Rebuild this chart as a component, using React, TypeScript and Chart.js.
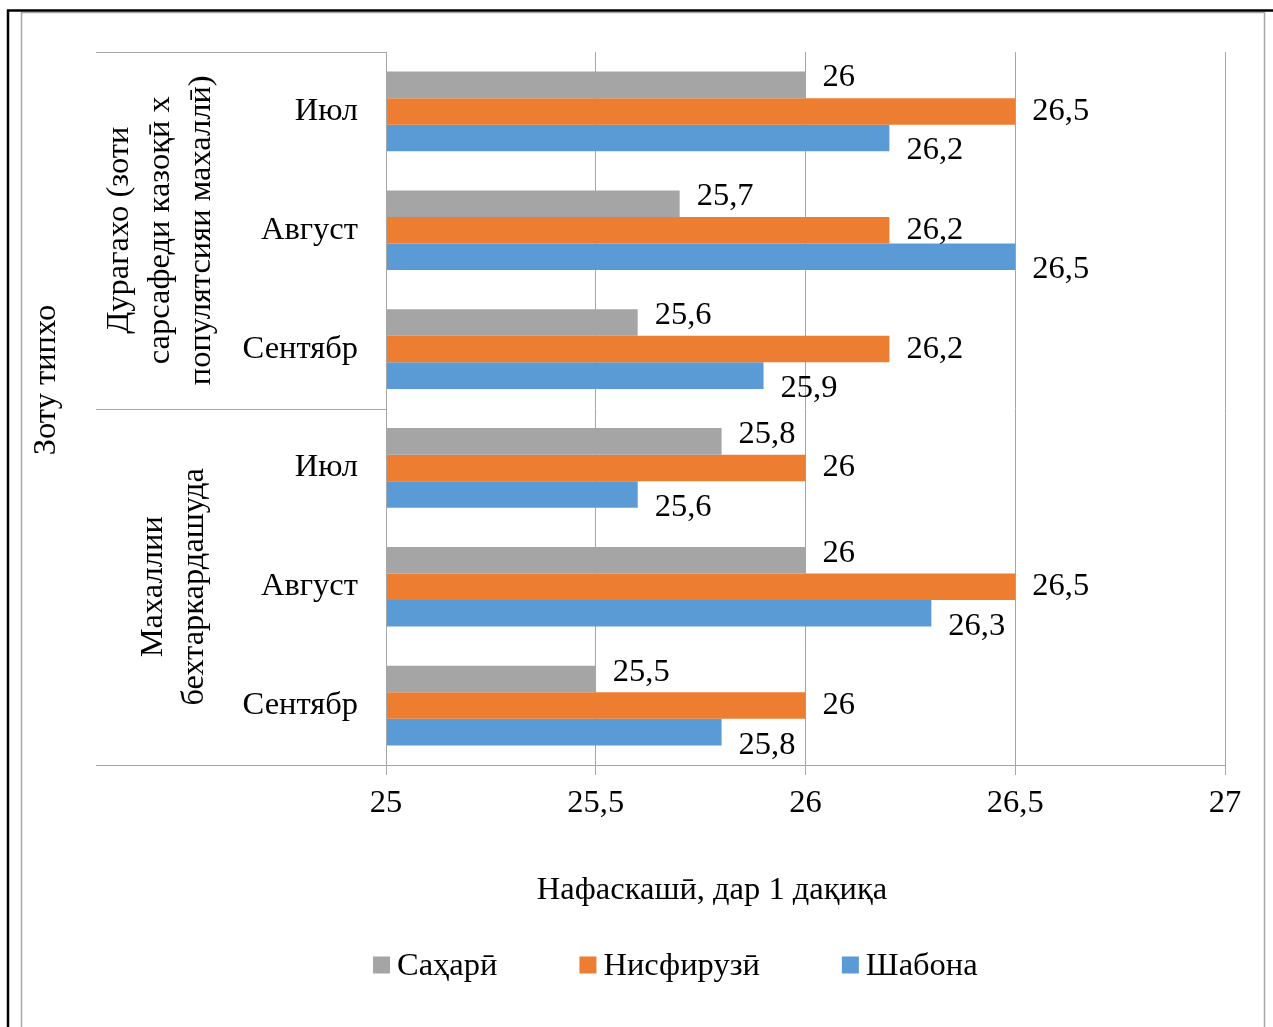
import React, { useEffect, useRef } from "react";
import { Chart, registerables } from "chart.js";

Chart.register(...registerables);

const categories = ["Июл", "Август", "Сентябр", "Июл", "Август", "Сентябр"];
const groupLabels = [
  ["Дурагахо (зоти", "сарсафеди казоқӣ х", "популятсияи махаллӣ)"],
  ["Махаллии", "бехтаркардашуда"],
];
const groupSizes = [3, 3];
const seriesNames = ["Саҳарӣ", "Нисфирузӣ", "Шабона"];
const seriesColors = ["#a5a5a5", "#ed7d31", "#5b9bd5"];
const sahari = [26, 25.7, 25.6, 25.8, 26, 25.5];
const nisfiruzi = [26.5, 26.2, 26.2, 26, 26.5, 26];
const shabona = [26.2, 26.5, 25.9, 25.6, 26.3, 25.8];
const xMin = 25;
const xMax = 27;
const xStep = 0.5;
const xTitle = "Нафаскашӣ, дар 1 дақиқа";
const yTitle = "Зоту типхо";

const FONT = '"Liberation Serif", "DejaVu Serif", serif';
const FS = 32.5;
const GRID = "#a6a6a6";

const fmt = (v: number) => String(v).replace(".", ",");

const overlay = {
  id: "overlay",
  afterDraw(chart: any) {
    const ctx = chart.ctx as CanvasRenderingContext2D;
    const area = chart.chartArea;
    ctx.save();

    // frames
    ctx.strokeStyle = GRID;
    ctx.lineWidth = 1.5;
    ctx.beginPath();
    ctx.moveTo(21.5, 1027);
    ctx.lineTo(21.5, 12.5);
    ctx.lineTo(1264.5, 12.5);
    ctx.lineTo(1264.5, 1027);
    ctx.stroke();
    ctx.strokeStyle = "#000";
    ctx.lineWidth = 2.5;
    ctx.beginPath();
    ctx.moveTo(8, 1027);
    ctx.lineTo(8, 10.5);
    ctx.lineTo(1273, 10.5);
    ctx.stroke();

    // group separators
    ctx.strokeStyle = GRID;
    ctx.lineWidth = 1;
    const left = 96;
    const band = (area.bottom - area.top) / categories.length;
    let idx = 0;
    const bounds: number[] = [area.top];
    groupSizes.forEach((n) => {
      idx += n;
      bounds.push(area.top + band * idx);
    });
    bounds.forEach((b) => {
      const y = Math.round(b) + 0.5;
      ctx.beginPath();
      ctx.moveTo(left, y);
      ctx.lineTo(area.left, y);
      ctx.stroke();
    });
    ctx.beginPath();
    ctx.moveTo(Math.round(area.left) + 0.5, area.top);
    ctx.lineTo(Math.round(area.left) + 0.5, area.bottom);
    ctx.stroke();

    // group labels (rotated)
    ctx.fillStyle = "#000";
    ctx.font = `${FS}px ${FONT}`;
    ctx.textAlign = "center";
    ctx.textBaseline = "middle";
    const groupX = [160, 174];
    const lh = 41;
    groupLabels.forEach((lines, g) => {
      const cy = (bounds[g] + bounds[g + 1]) / 2;
      ctx.save();
      ctx.translate(groupX[g], cy);
      ctx.rotate(-Math.PI / 2);
      lines.forEach((t, i) => {
        ctx.fillText(t, 0, (i - (lines.length - 1) / 2) * lh);
      });
      ctx.restore();
    });

    // y title
    ctx.save();
    ctx.translate(46, 380);
    ctx.rotate(-Math.PI / 2);
    ctx.fillText(yTitle, 0, 0);
    ctx.restore();

    // x title
    ctx.fillText(xTitle, 712, 890);

    // data labels
    ctx.textAlign = "left";
    const dys = [-7, 0, 13];
    chart.data.datasets.forEach((ds: any, di: number) => {
      const meta = chart.getDatasetMeta(di);
      meta.data.forEach((el: any, i: number) => {
        ctx.fillText(fmt(ds.data[i]), el.x + 17, el.y + dys[di]);
      });
    });

    // legend
    const box = 17;
    const gapText = 7;
    const gapItem = 82;
    let lx = 373;
    const ly = 965;
    seriesNames.forEach((n, i) => {
      ctx.fillStyle = seriesColors[i];
      ctx.fillRect(lx, ly - box / 2, box, box);
      ctx.fillStyle = "#000";
      ctx.fillText(n, lx + box + gapText, ly + 1);
      lx += box + gapText + ctx.measureText(n).width + gapItem;
    });

    ctx.restore();
  },
};

export default function App() {
  const ref = useRef<HTMLCanvasElement | null>(null);
  useEffect(() => {
    if (!ref.current) return;
    const data = [sahari, nisfiruzi, shabona];
    const chart = new Chart(ref.current, {
      type: "bar",
      data: {
        labels: categories,
        datasets: seriesNames.map((name, i) => ({
          label: name,
          data: data[i],
          backgroundColor: seriesColors[i],
          borderWidth: 0,
          categoryPercentage: 0.67,
          barPercentage: 1.0,
        })),
      },
      options: {
        indexAxis: "y",
        animation: false,
        responsive: false,
        devicePixelRatio: 1,
        layout: { padding: { left: 96, top: 52, right: 48, bottom: 162 } },
        plugins: { legend: { display: false }, tooltip: { enabled: false } },
        scales: {
          x: {
            min: xMin,
            max: xMax,
            ticks: {
              stepSize: xStep,
              color: "#000",
              font: { family: FONT, size: FS },
              padding: 9,
              callback: (v: any) => fmt(Number(v)),
              maxRotation: 0,
            },
            grid: { color: GRID, lineWidth: 1, tickLength: 10, drawTicks: true },
            border: { display: true, color: GRID, width: 1 },
            afterFit: (s: any) => {
              s.height = 100;
            },
          },
          y: {
            ticks: {
              color: "#000",
              font: { family: FONT, size: FS },
              padding: 28,
            },
            grid: { display: false, drawTicks: false },
            border: { display: true, color: GRID, width: 1 },
            afterFit: (s: any) => {
              s.width = 290;
            },
          },
        },
      },
      plugins: [overlay],
    } as any);
    return () => chart.destroy();
  }, []);
  return (
    <div style={{ position: "fixed", left: 0, top: 0, width: 1273, height: 1027, background: "#fff" }}>
      <canvas ref={ref} width={1273} height={1027} style={{ width: 1273, height: 1027, display: "block" }} />
    </div>
  );
}
